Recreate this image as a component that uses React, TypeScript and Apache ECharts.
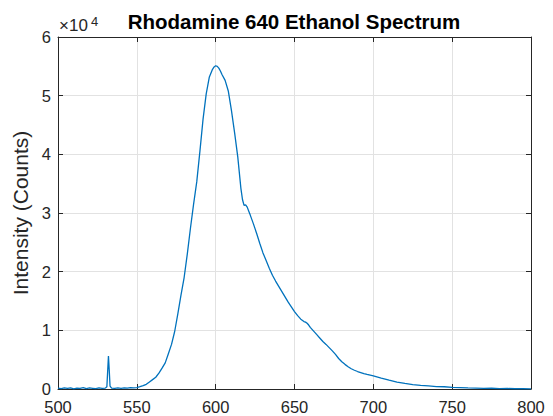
import React, { useEffect, useRef } from "react";
import * as echarts from "echarts";

const wavelength = [
  500, 502, 504, 506, 508, 510, 512, 514, 516, 518, 520, 522, 524, 526, 528, 530,
  531, 531.5, 532, 532.5, 533, 534, 536, 538, 540, 542, 544, 546, 548, 550,
  552, 554, 556, 558, 560, 562, 564, 566, 568, 570, 572, 574, 576, 578, 580,
  582, 584, 586, 588, 590, 592, 594, 596, 598, 599, 600, 601, 602, 603, 604,
  606, 608, 610, 612, 614, 616, 617, 618, 619, 620, 621, 622, 624, 626, 628,
  630, 632, 634, 636, 638, 640, 642, 644, 646, 648, 650, 652, 654, 656, 657,
  658, 659, 660, 662, 664, 666, 668, 670, 672, 674, 676, 678, 680, 682, 684,
  686, 688, 690, 692, 694, 696, 698, 700, 705, 710, 715, 720, 725, 730, 735,
  740, 745, 750, 755, 760, 765, 770, 775, 780, 785, 790, 795, 800,
];

const intensity = [
  150, 60, 180, 90, 200, 40, 160, 110, 220, 70, 180, 120, 60, 190, 100, 150,
  400, 3000, 5600, 3200, 500, 150, 90, 180, 120, 200, 150, 230, 200, 250,
  390, 560, 800, 1200, 1600, 2000, 2700, 3550, 4450, 6000, 7600, 9800, 12800, 16000, 19000,
  23000, 27400, 31500, 35300, 40500, 46000, 50300, 53200, 54500, 54900, 55100, 55000, 54700, 54200, 53600,
  52600, 50800, 47500, 43700, 39600, 34200, 32300, 31300, 31400, 31000, 30300, 29600, 28100, 26500, 24800,
  23200, 21900, 20600, 19400, 18400, 17500, 16600, 15700, 14800, 14000, 13200, 12500, 11900, 11500, 11400,
  11200, 10900, 10500, 9900, 9300, 8700, 8100, 7600, 7050, 6500, 5900, 5200, 4650, 4200, 3800,
  3450, 3200, 2980, 2800, 2620, 2480, 2350, 2220, 1850, 1500, 1180, 950, 760, 620, 530,
  420, 380, 290, 240, 180, 160, 110, 130, 70, 90, 40, 80, 30,
];

const xTicks = { min: 500, max: 800, interval: 50 };
const yTicks = { min: 0, max: 60000, interval: 10000 };

const titleText = "Rhodamine 640 Ethanol Spectrum";
const yLabel = "Intensity (Counts)";

export default function App() {
  const ref = useRef<HTMLDivElement>(null);
  useEffect(() => {
    if (!ref.current) return;
    const chart = echarts.init(ref.current, null, { renderer: "svg" });
    const font = "Liberation Sans, Arial, Helvetica, sans-serif";
    const dark = "#262626";
    const axisCommon = {
      type: "value",
      axisLine: { show: true, onZero: false, lineStyle: { color: dark, width: 1 } },
      axisTick: { show: true, inside: true, length: 5, lineStyle: { color: dark } },
    };
    chart.setOption({
      animation: false,
      backgroundColor: "#ffffff",
      title: [
        {
          text: titleText,
          left: 294,
          top: 11,
          textAlign: "center",
          padding: 0,
          textStyle: { fontFamily: font, fontSize: 20.5, fontWeight: "bold", color: "#000000" },
        },
        {
          text: "×10",
          left: 59,
          top: 17,
          padding: 0,
          textStyle: { fontFamily: font, fontSize: 17, fontWeight: "normal", color: dark },
        },
        {
          text: "4",
          left: 91,
          top: 15,
          padding: 0,
          textStyle: { fontFamily: font, fontSize: 13, fontWeight: "normal", color: dark },
        },
      ],
      grid: { left: 58, top: 37, width: 473, height: 352, containLabel: false },
      xAxis: [
        {
          ...axisCommon,
          position: "bottom",
          min: xTicks.min,
          max: xTicks.max,
          interval: xTicks.interval,
          axisLabel: { color: dark, fontSize: 16.5, margin: 9, fontFamily: font },
          splitLine: { show: true, lineStyle: { color: "#e2e2e2", width: 1 } },
        },
        {
          ...axisCommon,
          position: "top",
          min: xTicks.min,
          max: xTicks.max,
          interval: xTicks.interval,
          axisLabel: { show: false },
          splitLine: { show: false },
        },
      ],
      yAxis: [
        {
          ...axisCommon,
          position: "left",
          min: yTicks.min,
          max: yTicks.max,
          interval: yTicks.interval,
          name: yLabel,
          nameLocation: "middle",
          nameGap: 25,
          nameRotate: 90,
          nameTextStyle: { color: dark, fontSize: 21, fontFamily: font },
          axisLabel: {
            color: dark,
            fontSize: 16.5,
            margin: 7,
            fontFamily: font,
            formatter: (v: number) => String(v / 10000),
          },
          splitLine: { show: true, lineStyle: { color: "#e2e2e2", width: 1 } },
        },
        {
          ...axisCommon,
          position: "right",
          min: yTicks.min,
          max: yTicks.max,
          interval: yTicks.interval,
          axisLabel: { show: false },
          splitLine: { show: false },
        },
      ],
      series: [
        {
          type: "line",
          xAxisIndex: 0,
          yAxisIndex: 0,
          data: wavelength.map((w, i) => [w, intensity[i]]),
          showSymbol: false,
          symbol: "none",
          lineStyle: { color: "#0072BD", width: 1.3 },
          clip: true,
        },
      ],
    });
    return () => chart.dispose();
  }, []);
  return (
    <div
      ref={ref}
      style={{ position: "absolute", left: 0, top: 0, width: 553, height: 416 }}
    />
  );
}
